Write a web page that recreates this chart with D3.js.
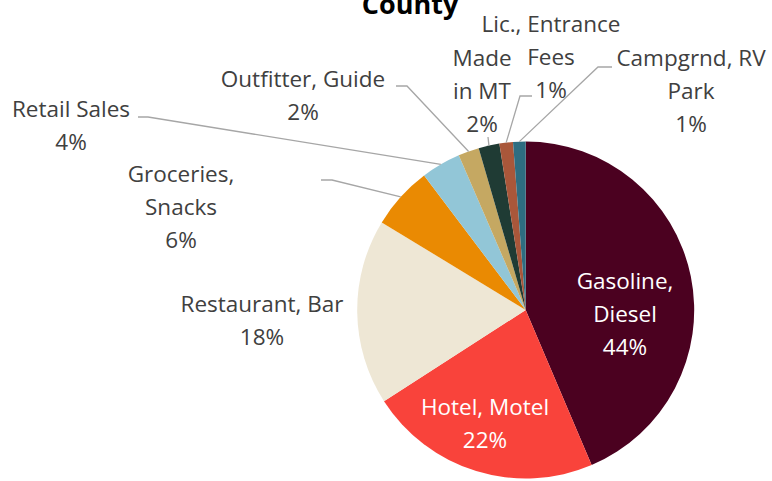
<!DOCTYPE html>
<html>
<head>
<meta charset="utf-8">
<script src="https://cdn.jsdelivr.net/npm/d3@7"></script>
<style>
   html, body { margin: 0; padding: 0; background: #fff; }
   svg { display: block; font-family: "Open Sans", sans-serif; }
</style>
</head>
<body>
<div id="chart"></div>
<script>

// CHART DATA
var categories = ['Gasoline, Diesel', 'Hotel, Motel', 'Restaurant, Bar', 'Groceries, Snacks', 'Retail Sales',
   'Outfitter, Guide', 'Made in MT', 'Lic., Entrance Fees', 'Campgrnd, RV Park'];
var values = [43.6, 22.3, 17.8, 6.0, 3.8, 2.0, 2.0, 1.3, 1.2];
var labelLines = [['Gasoline,', 'Diesel'], ['Hotel, Motel'], ['Restaurant, Bar'], ['Groceries,', 'Snacks'],
   ['Retail Sales'], ['Outfitter, Guide'], ['Made', 'in MT'], ['Lic., Entrance', 'Fees'], ['Campgrnd, RV', 'Park']];

// STYLE SETTINGS
var colors = ['#4b0120', '#f9433b', '#eee7d5', '#ea8a02', '#92c6d7', '#c5a862', '#1f3b34', '#a9573a', '#2e6d81'];
var textColors = ['#ffffff', '#ffffff', '#404040', '#404040', '#404040', '#404040', '#404040', '#404040', '#404040'];

// LABEL LAYOUT -- CENTER X, FIRST LINE Y
var labelPos = [[625, 280], [485, 406], [262, 303], [181, 173], [71, 108], [303, 78], [482, 57], [551, 23], [691, 57]];

// LEADER LAYOUT -- START X, ELBOW X, Y (NULL = NO LEADER)
var leaders = [null, null, null, [321, 332, 180], [138, 148, 117], [396, 407, 86], [488, 488, 137], [532, 520, 96], [612, 598, 67]];

// SETTINGS
var settings = {
   width: 772,
   height: 481,
   cx: 525.7,
   cy: 310,
   radius: 168.5,
   fontSize: 22.5,
   lineHeight: 33
};

// GENERATE CANVAS
var canvas = d3.select('#chart').append('svg')
   .attr('width', settings.width)
   .attr('height', settings.height)

// TITLE (CUT OFF AT TOP)
canvas.append('text')
   .attr('x', 410)
   .attr('y', 14)
   .attr('text-anchor', 'middle')
   .attr('font-size', 27)
   .attr('font-weight', 'bold')
   .attr('fill', '#000')
   .text('County')

// PIE LAYOUT
var total = d3.sum(values);
var pie = d3.pie().sort(null).value(d => d);
var arcs = pie(values);

var arc = d3.arc().innerRadius(0).outerRadius(settings.radius);

var group = canvas.append('g')
   .attr('transform', 'translate(' + settings.cx + ',' + settings.cy + ')')

// ADD SLICES
group.selectAll('path')
   .data(arcs)
      .enter().append('path')
         .attr('d', arc)
         .attr('fill', (d, i) => colors[i])

// ADD LEADER LINES
arcs.forEach((d, i) => {
   var leader = leaders[i];
   if (!leader) { return; }

   // POINT ON PIE EDGE AT MID ANGLE
   var mid = (d.startAngle + d.endAngle) / 2;
   var ex = settings.cx + settings.radius * Math.sin(mid);
   var ey = settings.cy - settings.radius * Math.cos(mid);

   canvas.append('polyline')
      .attr('points', [[leader[0], leader[2]], [leader[1], leader[2]], [ex, ey]].map(p => p.join(',')).join(' '))
      .attr('fill', 'none')
      .attr('stroke', '#a6a6a6')
      .attr('stroke-width', 1.3)
});

// ADD LABELS
arcs.forEach((d, i) => {
   var lines = labelLines[i].concat([Math.round(d.value / total * 100) + '%']);
   var label = canvas.append('text')
      .attr('text-anchor', 'middle')
      .attr('font-size', settings.fontSize)
      .attr('fill', textColors[i])

   lines.forEach((line, j) => {
      label.append('tspan')
         .attr('x', labelPos[i][0])
         .attr('y', labelPos[i][1] + j * settings.lineHeight)
         .attr('dominant-baseline', 'central')
         .text(line)
   });
});

</script>
</body>
</html>
